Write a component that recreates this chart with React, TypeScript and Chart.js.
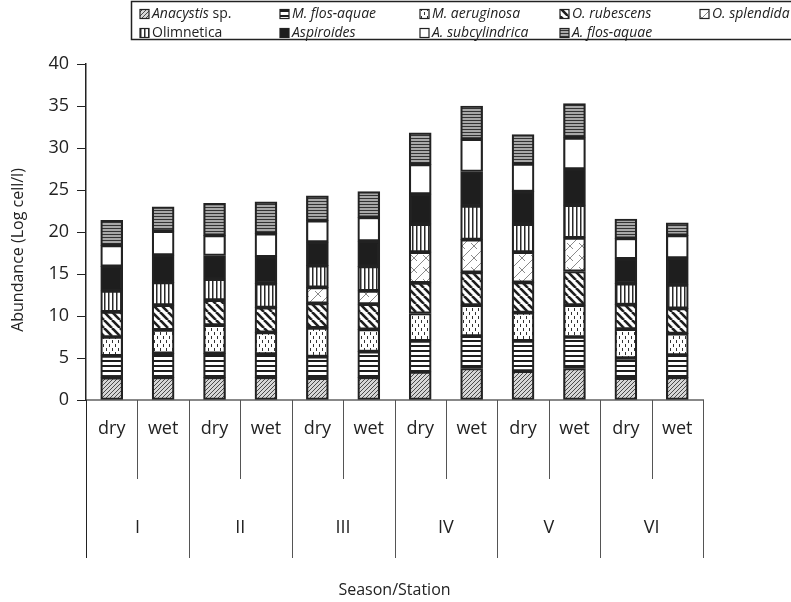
import React, { useEffect, useRef } from "react";
import { Chart, registerables } from "chart.js";

Chart.register(...registerables);

const categories = ["dry", "wet", "dry", "wet", "dry", "wet", "dry", "wet", "dry", "wet", "dry", "wet"];
const stations = ["I", "II", "III", "IV", "V", "VI"];
const yTicks = [0, 5, 10, 15, 20, 25, 30, 35, 40];

const anacystis = [2.65, 2.7, 2.7, 2.7, 2.6, 2.7, 3.35, 3.75, 3.45, 3.75, 2.6, 2.7];
const mFlosAquae = [2.6, 2.85, 2.85, 2.75, 2.55, 3.05, 3.7, 3.85, 3.6, 3.75, 2.4, 2.65];
const mAeruginosa = [2.25, 2.8, 3.35, 2.6, 3.45, 2.65, 3.25, 3.7, 3.35, 3.8, 3.45, 2.55];
const oRubescens = [3.0, 2.95, 3.0, 2.95, 2.9, 3.0, 3.65, 3.9, 3.6, 4.0, 2.9, 3.0];
const oSplendida = [null, null, null, null, 1.9, 1.6, 3.65, 3.9, 3.6, 4.0, null, null];
const olimnetica = [2.5, 2.7, 2.5, 2.85, 2.6, 2.9, 3.35, 4.0, 3.35, 3.9, 2.5, 2.8];
const aspiroides = [2.9, 3.25, 2.8, 3.2, 2.8, 3.0, 3.55, 4.1, 3.85, 4.3, 2.95, 3.2];
const aSubcylindrica = [2.5, 2.85, 2.4, 2.75, 2.55, 2.85, 3.55, 3.85, 3.3, 3.7, 2.45, 2.7];
const aFlosAquae = [3.0, 2.9, 3.8, 3.8, 2.95, 3.05, 3.75, 3.95, 3.5, 4.1, 2.3, 1.5];

const seriesNames = [
  "Anacystis sp.",
  "M. flos-aquae",
  "M. aeruginosa",
  "O. rubescens",
  "O. splendida",
  "Olimnetica",
  "Aspiroides",
  "A. subcylindrica",
  "A. flos-aquae",
];
const seriesData = [anacystis, mFlosAquae, mAeruginosa, oRubescens, oSplendida, olimnetica, aspiroides, aSubcylindrica, aFlosAquae];
const patternKinds = ["hatchFine", "hlines", "dashes", "diagThick", "brick", "vlines", "solid", "white", "hlinesGray"];

const FONT = "'Open Sans', 'DejaVu Sans', sans-serif";
const DARK = "#222";

function makePattern(kind: string): CanvasPattern | string {
  if (kind === "solid") return "#1e1e1e";
  if (kind === "white") return "#ffffff";
  const c = document.createElement("canvas");
  const g = c.getContext("2d")!;
  if (kind === "hatchFine") {
    c.width = 4; c.height = 4;
    g.fillStyle = "#d6d6d6"; g.fillRect(0, 0, 4, 4);
    g.strokeStyle = "#3a3a3a"; g.lineWidth = 0.9;
    for (let o = -4; o <= 8; o += 4) { g.beginPath(); g.moveTo(o, 4); g.lineTo(o + 4, 0); g.stroke(); }
  } else if (kind === "hlines") {
    c.width = 4; c.height = 5;
    g.fillStyle = "#fff"; g.fillRect(0, 0, 4, 5);
    g.fillStyle = "#1e1e1e"; g.fillRect(0, 0, 4, 2);
  } else if (kind === "dashes") {
    c.width = 6; c.height = 8;
    g.fillStyle = "#fff"; g.fillRect(0, 0, 6, 8);
    g.fillStyle = "#333"; g.fillRect(1, 0, 1, 3); g.fillRect(4, 4, 1, 3);
  } else if (kind === "diagThick") {
    c.width = 8; c.height = 8;
    g.fillStyle = "#fff"; g.fillRect(0, 0, 8, 8);
    g.strokeStyle = "#1e1e1e"; g.lineWidth = 2.6;
    for (let o = -8; o <= 8; o += 8) { g.beginPath(); g.moveTo(o, 0); g.lineTo(o + 8, 8); g.stroke(); }
  } else if (kind === "brick") {
    c.width = 12; c.height = 12;
    g.fillStyle = "#fff"; g.fillRect(0, 0, 12, 12);
    g.strokeStyle = "#8a8a8a"; g.lineWidth = 1;
    for (let o = -12; o <= 12; o += 12) { g.beginPath(); g.moveTo(o, 12); g.lineTo(o + 12, 0); g.stroke(); }
    g.beginPath(); g.moveTo(3, 3); g.lineTo(9, 9); g.stroke();
    g.beginPath(); g.moveTo(9, -3); g.lineTo(15, 3); g.stroke();
    g.beginPath(); g.moveTo(-3, 9); g.lineTo(3, 15); g.stroke();
  } else if (kind === "vlines") {
    c.width = 4; c.height = 4;
    g.fillStyle = "#fff"; g.fillRect(0, 0, 4, 4);
    g.fillStyle = "#2a2a2a"; g.fillRect(0, 0, 1.5, 4);
  } else if (kind === "hlinesGray") {
    c.width = 4; c.height = 3;
    g.fillStyle = "#a8a8a8"; g.fillRect(0, 0, 4, 3);
    g.fillStyle = "#333"; g.fillRect(0, 0, 4, 1);
  }
  return g.createPattern(c, "repeat")!;
}

function drawLegend(ctx: CanvasRenderingContext2D, fills: (CanvasPattern | string)[]) {
  ctx.save();
  ctx.strokeStyle = DARK;
  ctx.lineWidth = 1.5;
  ctx.strokeRect(131.5, 1.5, 720, 38);
  const colX = [152, 292, 432, 572, 712];
  const rowY = [14, 33];
  const fs = 14;
  ctx.textBaseline = "middle";
  ctx.textAlign = "left";
  seriesNames.forEach((name, i) => {
    const row = i < 5 ? 0 : 1;
    const col = i < 5 ? i : i - 5;
    const tx = colX[col];
    const ty = rowY[row];
    ctx.fillStyle = fills[i] as any;
    ctx.fillRect(tx - 12, ty - 4.5, 9, 9);
    ctx.strokeStyle = DARK;
    ctx.lineWidth = 1.2;
    ctx.strokeRect(tx - 12, ty - 4.5, 9, 9);
    ctx.fillStyle = DARK;
    if (name === "Anacystis sp.") {
      ctx.font = `italic ${fs}px ${FONT}`;
      ctx.fillText("Anacystis", tx, ty);
      const w = ctx.measureText("Anacystis").width;
      ctx.font = `${fs}px ${FONT}`;
      ctx.fillText(" sp.", tx + w, ty);
    } else if (name === "Olimnetica") {
      ctx.font = `${fs}px ${FONT}`;
      ctx.fillText(name, tx, ty);
    } else {
      ctx.font = `italic ${fs}px ${FONT}`;
      ctx.fillText(name, tx, ty);
    }
  });
  ctx.restore();
}

export default function App() {
  const ref = useRef<HTMLCanvasElement | null>(null);
  useEffect(() => {
    document.body.style.margin = "0";
    const fills = patternKinds.map(makePattern);
    const overlay = {
      id: "overlay",
      afterDraw(chart: any) {
        const ctx: CanvasRenderingContext2D = chart.ctx;
        const xs = chart.scales.x;
        const area = chart.chartArea;
        const n = categories.length;
        const w = (xs.right - xs.left) / n;
        const base = area.bottom;
        ctx.save();
        for (let i = 0; i <= n; i++) {
          const px = Math.round(xs.left + i * w) + 0.5;
          const isStation = i % 2 === 0;
          ctx.strokeStyle = i === 0 ? DARK : "#555";
          ctx.lineWidth = 1;
          ctx.beginPath();
          ctx.moveTo(px, base);
          ctx.lineTo(px, isStation ? base + 158 : base + 79);
          ctx.stroke();
        }
        ctx.fillStyle = DARK;
        ctx.textAlign = "center";
        ctx.textBaseline = "middle";
        ctx.font = `18px ${FONT}`;
        categories.forEach((lab, i) => {
          ctx.fillText(lab, xs.getPixelForValue(i), base + 29);
        });
        stations.forEach((lab, i) => {
          const cx = (xs.getPixelForValue(2 * i) + xs.getPixelForValue(2 * i + 1)) / 2;
          ctx.fillText(lab, cx, base + 128);
        });
        ctx.font = `16px ${FONT}`;
        ctx.fillText("Season/Station", (xs.left + xs.right) / 2, base + 190);
        ctx.save();
        ctx.translate(18.5, 250);
        ctx.rotate(-Math.PI / 2);
        ctx.fillText("Abundance (Log cell/l)", 0, 0);
        ctx.restore();
        ctx.restore();
        drawLegend(ctx, fills);
      },
    };
    const chart = new Chart(ref.current!, {
      type: "bar",
      data: {
        labels: categories,
        datasets: seriesNames.map((name, i) => ({
          label: name,
          data: seriesData[i],
          backgroundColor: fills[i] as any,
          borderColor: DARK,
          borderWidth: 2.2,
          borderSkipped: false,
          barThickness: 22,
        })),
      },
      options: {
        responsive: false,
        animation: false,
        layout: { padding: { top: 64, right: 88, left: 0, bottom: 0 } },
        plugins: { legend: { display: false }, tooltip: { enabled: false } },
        scales: {
          x: {
            stacked: true,
            grid: { display: false },
            border: { color: "#888", width: 2 },
            ticks: { display: false },
            afterFit: (s: any) => { s.height = 202; },
          },
          y: {
            stacked: true,
            min: 0,
            max: 40,
            afterBuildTicks: (s: any) => { s.ticks = yTicks.map((v) => ({ value: v })); },
            ticks: { font: { family: FONT, size: 18 }, color: DARK, padding: 8 },
            grid: { drawOnChartArea: false, drawTicks: true, tickLength: 9, color: DARK },
            border: { color: DARK, width: 1.5 },
            title: { display: false },
            afterFit: (s: any) => { s.width = 86; },
          },
        },
      },
      plugins: [overlay],
    });
    return () => chart.destroy();
  }, []);
  return (
    <div style={{ width: 791, height: 602, position: "relative" }}>
      <canvas ref={ref} width={791} height={602} style={{ display: "block" }} />
    </div>
  );
}
